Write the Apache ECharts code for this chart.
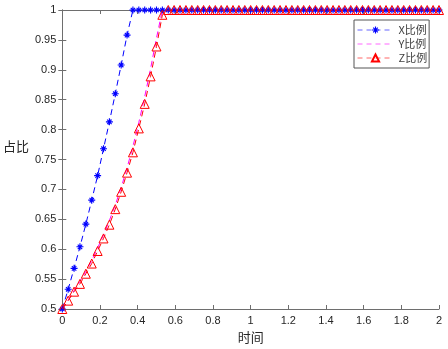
<!DOCTYPE html>
<html>
<head>
<meta charset="utf-8">
<script src="https://cdn.jsdelivr.net/npm/echarts@6/dist/echarts.min.js"></script>
<style>
  html, body { margin: 0; padding: 0; background: #fff; }
  #main { width: 448px; height: 349px; }
</style>
</head>
<body>
<div id="main"></div>
<script>
// time samples (1/32 step)
var timeVals = [0,0.03125,0.0625,0.09375,0.125,0.15625,0.1875,0.21875,0.25,0.28125,0.3125,0.34375,0.375,0.40625,0.4375,0.46875,0.5,0.53125,0.5625,0.59375,0.625,0.65625,0.6875,0.71875,0.75,0.78125,0.8125,0.84375,0.875,0.90625,0.9375,0.96875,1,1.03125,1.0625,1.09375,1.125,1.15625,1.1875,1.21875,1.25,1.28125,1.3125,1.34375,1.375,1.40625,1.4375,1.46875,1.5,1.53125,1.5625,1.59375,1.625,1.65625,1.6875,1.71875,1.75,1.78125,1.8125,1.84375,1.875,1.90625,1.9375,1.96875,2];

var xRatio = [0.5,0.533,0.568,0.604,0.642,0.682,0.723,0.768,0.813,0.86,0.908,0.958,1,1,1,1,1,1,1,1,1,1,1,1,1,1,1,1,1,1,1,1,1,1,1,1,1,1,1,1,1,1,1,1,1,1,1,1,1,1,1,1,1,1,1,1,1,1,1,1,1,1,1,1,1];
var yRatio = [0.5,0.515,0.531,0.546,0.563,0.581,0.602,0.624,0.648,0.674,0.703,0.736,0.772,0.812,0.855,0.902,0.953,1,1,1,1,1,1,1,1,1,1,1,1,1,1,1,1,1,1,1,1,1,1,1,1,1,1,1,1,1,1,1,1,1,1,1,1,1,1,1,1,1,1,1,1,1,1,1,1];
var zRatio = [0.5,0.514,0.529,0.542,0.559,0.576,0.597,0.618,0.641,0.667,0.696,0.728,0.762,0.802,0.843,0.889,0.939,0.992,1,1,1,1,1,1,1,1,1,1,1,1,1,1,1,1,1,1,1,1,1,1,1,1,1,1,1,1,1,1,1,1,1,1,1,1,1,1,1,1,1,1,1,1,1,1,1,1,1];

var seriesNames = ['X比例', 'Y比例', 'Z比例'];
var colors = ['#0000ff', '#ff00ff', '#ff0000'];

function pairs(vals) {
  return timeVals.map(function (t, i) { return [t, vals[i]]; });
}

// asterisk marker made of four bars
var starPath = 'path://M8.4,0L11.6,0L11.6,20L8.4,20Z' +
  'M0,8.4L20,8.4L20,11.6L0,11.6Z' +
  'M4.77,2.51L17.49,15.23L15.23,17.49L2.51,4.77Z' +
  'M2.51,15.23L15.23,2.51L17.49,4.77L4.77,17.49Z';

var axisGray = '#6e6e6e';
var txt = '#262626';
var cjk = '"Noto Sans CJK SC", sans-serif';
var dash = [6, 4];

var chart = echarts.init(document.getElementById('main'));
var option = {
  animation: false,
  backgroundColor: '#fff',
  grid: { left: 59, right: 9, top: 10, bottom: 39 },
  legend: {
    data: [
      { name: seriesNames[0], lineStyle: { color: colors[0], width: 1, type: [5, 4], opacity: 0.6 } },
      { name: seriesNames[1], lineStyle: { color: colors[1], width: 1, type: [5, 4], opacity: 0.6 }, itemStyle: { opacity: 0 } },
      { name: seriesNames[2], lineStyle: { color: colors[2], width: 1, type: [5, 4], opacity: 0.6 } }
    ],
    orient: 'vertical',
    left: 354,
    top: 20,
    padding: [3, 2, 3, 3],
    itemGap: 0,
    itemWidth: 36,
    itemHeight: 9,
    borderColor: '#555',
    borderWidth: 1,
    borderRadius: 0,
    backgroundColor: '#fff',
    textStyle: { color: '#404040', fontSize: 11, lineHeight: 14, fontFamily: cjk }
  },
  xAxis: [{
    type: 'value', min: 0, max: 2, interval: 0.2,
    position: 'bottom',
    name: '时间', nameLocation: 'middle', nameGap: 22,
    nameTextStyle: { color: txt, fontSize: 13, fontFamily: cjk },
    axisLine: { lineStyle: { color: axisGray, width: 1 } },
    axisTick: { inside: true, length: 4, lineStyle: { color: axisGray } },
    axisLabel: { color: txt, fontSize: 11, fontFamily: 'Liberation Sans', margin: 6 },
    splitLine: { show: false }
  }, {
    type: 'value', min: 0, max: 2, interval: 0.2,
    position: 'top',
    axisLine: { lineStyle: { color: axisGray, width: 1 } },
    axisTick: { inside: true, length: 4, lineStyle: { color: axisGray } },
    axisLabel: { show: false },
    splitLine: { show: false }
  }],
  yAxis: [{
    type: 'value', min: 0.5, max: 1, interval: 0.05,
    position: 'left',
    name: '占比', nameLocation: 'middle', nameRotate: 0, nameGap: 31,
    nameTextStyle: { color: txt, fontSize: 13, fontFamily: cjk, verticalAlign: 'bottom', lineHeight: 26 },
    axisLine: { show: true, lineStyle: { color: axisGray, width: 1 } },
    axisTick: { show: true, inside: true, length: 4, lineStyle: { color: axisGray } },
    axisLabel: { color: txt, fontSize: 11, fontFamily: 'Liberation Sans', margin: 6 },
    splitLine: { show: false }
  }, {
    type: 'value', min: 0.5, max: 1, interval: 0.05,
    position: 'right',
    axisLine: { show: true, lineStyle: { color: axisGray, width: 1 } },
    axisTick: { show: true, inside: true, length: 4, lineStyle: { color: axisGray } },
    axisLabel: { show: false },
    splitLine: { show: false }
  }],
  series: [{
    name: seriesNames[0],
    type: 'line',
    data: pairs(xRatio),
    symbol: starPath,
    symbolSize: 7,
    showAllSymbol: true,
    lineStyle: { color: colors[0], width: 1, type: dash },
    itemStyle: { color: colors[0] },
    z: 3
  }, {
    name: seriesNames[1],
    type: 'line',
    data: pairs(yRatio),
    symbol: 'none',
    lineStyle: { color: colors[1], width: 1, type: dash },
    itemStyle: { color: colors[1] },
    z: 2
  }, {
    name: seriesNames[2],
    type: 'line',
    data: pairs(zRatio),
    symbol: 'triangle',
    symbolSize: 9,
    showAllSymbol: true,
    lineStyle: { color: colors[2], width: 1, type: dash },
    itemStyle: { color: 'rgba(0,0,0,0)', borderColor: colors[2], borderWidth: 1 },
    z: 4
  }]
};
chart.setOption(option);
</script>
</body>
</html>
